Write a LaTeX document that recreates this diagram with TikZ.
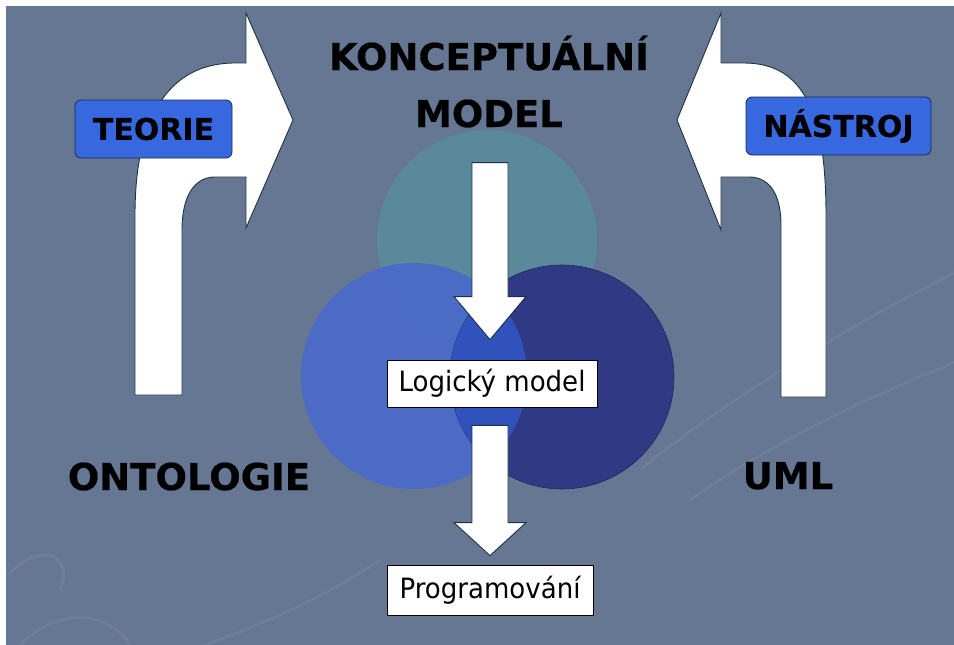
\documentclass[tikz,border=0pt]{standalone}
\usepackage{fontspec}
\setmainfont{DejaVu Sans}[FakeStretch=0.93]
\newfontfamily\tucne{DejaVu Sans Bold}[FakeBold=0.5]
\usetikzlibrary{positioning, calc}
\definecolor{pozadi}{HTML}{667794}
\definecolor{kruhTeal}{HTML}{5A8B9D}
\definecolor{kruhLevy}{HTML}{4A6BC8}
\definecolor{kruhPravy}{HTML}{2F3984}
\definecolor{kruhPrunik}{HTML}{3151BC}
\definecolor{modraBox}{HTML}{3768E0}
\definecolor{ramBox}{HTML}{1C2A4A}
\definecolor{ramSipka}{HTML}{1A3340}

% blokova sipka dolu: ocas, hrot, delka hlavy
\newcommand{\blokSipka}[3]{%
  \draw[sipka] let \p1=(#1), \p2=(#2) in
    (\x1-18pt,\y1) -- (\x1+18pt,\y1) -- (\x1+18pt,\y2+#3) -- (\x1+36pt,\y2+#3)
    -- (\x1,\y2) -- (\x1-36pt,\y2+#3) -- (\x1-18pt,\y2+#3) -- cycle;}

\begin{document}
\begin{tikzpicture}[x=1pt, y=-1pt,
    nadpis/.style={font=\fontsize{37}{40}\selectfont\tucne, text=black, inner sep=0pt},
    stitek/.style={draw=ramBox, fill=modraBox, rounded corners=6pt, line width=0.8pt,
      font=\fontsize{30}{32}\selectfont\tucne, inner sep=0pt},
    krabice/.style={draw=black, fill=white, line width=0.8pt,
      font=\fontsize{28}{30}\selectfont, inner sep=0pt},
    sipka/.style={fill=white, draw=ramSipka, line width=0.9pt, line join=miter}]
  % Pozadi
  \useasboundingbox (0,0) rectangle (954,645);
  \fill[white] (0,0) rectangle (954,645);
  \fill[pozadi] (6,6) rectangle (960,651);
  % Jemne vlnky v pozadi
  \begin{scope}
    \clip (6,6) rectangle (954,645);
    \begin{scope}[draw=white, opacity=0.06, line width=3pt]
      \draw (8,575) .. controls (40,540) and (75,555) .. (60,590);
      \draw (20,645) .. controls (60,605) and (110,612) .. (130,645);
      \draw (640,470) .. controls (700,420) and (820,340) .. (960,270);
      \draw (690,500) .. controls (760,450) and (860,400) .. (960,360);
      \draw (380,560) .. controls (320,600) and (250,630) .. (190,650);
    \end{scope}
  \end{scope}

  % Kruhy
  \fill[kruhTeal, opacity=0.9] (487,240) circle[radius=110];
  \fill[kruhLevy, opacity=0.95] (414,376) circle[radius=113];
  \filldraw[kruhPravy, draw=kruhPravy!70!black, line width=0.6pt] (562,377) circle[radius=112];
  \begin{scope}
    \clip (414,376) circle[radius=113];
    \fill[kruhPrunik] (562,377) circle[radius=112];
  \end{scope}

  % Zahnute sipky
  \draw[sipka] (135,395) -- (135,215) .. controls (135,115) and (170,63) .. (235,63)
    -- (246,63) -- (246,13) -- (293,120) -- (246,228) -- (246,177) -- (215,177)
    .. controls (195,177) and (182,195) .. (182,230) -- (182,395) -- cycle;
  \draw[sipka] (826,397) -- (826,215) .. controls (826,115) and (805,63) .. (744,63)
    -- (721,63) -- (721,13) -- (677,120) -- (721,230) -- (721,177) -- (749,177)
    .. controls (770,177) and (781,195) .. (781,225) -- (781,397) -- cycle;

  % Texty
  \node[nadpis, anchor=base] (konc) at (489,70) {KONCEPTUÁLNÍ};
  \node[nadpis, anchor=base] (model) at (489,127) {MODEL};
  \node[nadpis, anchor=base] (onto) at (189,490) {ONTOLOGIE};
  \node[nadpis, anchor=base] (uml) at (788,489) {UML};
  \node[stitek, minimum width=157pt, minimum height=58pt] (teorie) at (153.5,129) {TEORIE};
  \node[stitek, minimum width=185pt, minimum height=58pt] (nastroj) at (838.5,126) {NÁSTROJ};

  % Krabice
  \node[krabice, minimum width=210pt, minimum height=47pt] (logic) at (492,383.5) {Logický model};
  \node[krabice, minimum width=206pt, minimum height=50pt] (prog) at (490,590) {Programování};

  % Svisle sipky
  \coordinate (s1z) at ($(logic.north)+(-2,-197)$);
  \coordinate (s1k) at ($(logic.north)+(-2,-20)$);
  \coordinate (s2z) at ($(logic.south)+(-2,18)$);
  \coordinate (s2k) at ($(prog.north)+(0,-9)$);
  \blokSipka{s1z}{s1k}{43pt}
  \blokSipka{s2z}{s2k}{33pt}
\end{tikzpicture}
\end{document}
